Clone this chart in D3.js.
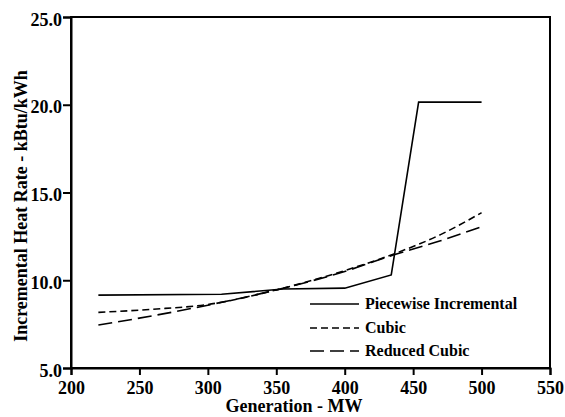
<!DOCTYPE html>
<html>
<head>
<meta charset="UTF-8">
<script src="https://d3js.org/d3.v7.min.js"></script>
<style>
  body { margin: 0; background: #fff; }
  text { font-family: "Liberation Serif", "Times New Roman", serif; font-weight: bold; fill: #000; }
  .axis path, .axis line { stroke: #000; stroke-width: 2px; }
  .curve { fill: none; stroke: #000; stroke-width: 1.6px; }
</style>
</head>
<body>
<svg id="chart" width="565" height="417"></svg>
<script>
// data (MW, kBtu/kWh)
const piecewiseMW  = [220, 310, 355, 400, 434, 454, 500];
const piecewiseHR  = [9.15, 9.2, 9.5, 9.55, 10.3, 20.15, 20.15];
const cubicMW      = [220, 260, 300, 350, 400, 436, 470, 500];
const cubicHR      = [8.17, 8.35, 8.62, 9.45, 10.55, 11.5, 12.6, 13.85];
const reducedMW    = [220, 260, 300, 350, 400, 436, 470, 500];
const reducedHR    = [7.45, 7.98, 8.58, 9.45, 10.5, 11.45, 12.25, 13.05];
const xTicks = [200, 250, 300, 350, 400, 450, 500, 550];
const yTicks = [5, 10, 15, 20, 25];
const seriesNames = ["Piecewise Incremental", "Cubic", "Reduced Cubic"];

const svg = d3.select("#chart");
const plotLeft = 71, plotTop = 17, plotRight = 550, plotBottom = 368;

const x = d3.scaleLinear().domain([200, 550]).range([plotLeft, plotRight]);
const y = d3.scaleLinear().domain([5, 25]).range([plotBottom, plotTop]);

// frame (top + right)
svg.append("rect")
   .attr("x", plotLeft).attr("y", plotTop)
   .attr("width", plotRight - plotLeft).attr("height", plotBottom - plotTop)
   .attr("fill", "none").attr("stroke", "#000").attr("stroke-width", 2);

const xAxis = svg.append("g")
   .attr("class", "axis")
   .attr("transform", `translate(0,${plotBottom})`)
   .call(d3.axisBottom(x).tickValues(xTicks).tickSize(7).tickPadding(6).tickFormat(d3.format("d")));
xAxis.selectAll("text").style("font-size", "18px");

const yAxis = svg.append("g")
   .attr("class", "axis")
   .attr("transform", `translate(${plotLeft},0)`)
   .call(d3.axisLeft(y).tickValues(yTicks).tickSize(8).tickPadding(1).tickFormat(d3.format(".1f")));
yAxis.selectAll("text").style("font-size", "18px").attr("dy", "0.45em");

// axis titles
svg.append("text")
   .attr("x", 294).attr("y", 412)
   .attr("text-anchor", "middle")
   .style("font-size", "18px")
   .text("Generation - MW");

svg.append("text")
   .attr("transform", "translate(27,206) rotate(-90)")
   .attr("text-anchor", "middle")
   .style("font-size", "18px")
   .text("Incremental Heat Rate - kBtu/kWh");

// lines
const lineStraight = d3.line().x(d => x(d[0])).y(d => y(d[1]));
const lineSmooth = d3.line().x(d => x(d[0])).y(d => y(d[1])).curve(d3.curveMonotoneX);

const dashes = [null, "7,4", "14,6"];

svg.append("path")
   .datum(d3.zip(piecewiseMW, piecewiseHR))
   .attr("class", "curve")
   .attr("d", lineStraight);

svg.append("path")
   .datum(d3.zip(cubicMW, cubicHR))
   .attr("class", "curve")
   .attr("stroke-dasharray", dashes[1])
   .attr("d", lineSmooth);

svg.append("path")
   .datum(d3.zip(reducedMW, reducedHR))
   .attr("class", "curve")
   .attr("stroke-dasharray", dashes[2])
   .attr("d", lineSmooth);

// legend
const legendY = [304, 328, 351];
const legend = svg.append("g");
seriesNames.forEach((name, i) => {
  legend.append("line")
    .attr("x1", 310).attr("x2", 359)
    .attr("y1", legendY[i]).attr("y2", legendY[i])
    .attr("stroke", "#000").attr("stroke-width", 1.6)
    .attr("stroke-dasharray", dashes[i]);
  legend.append("text")
    .attr("x", 365).attr("y", legendY[i])
    .attr("dy", "0.3em")
    .style("font-size", "16px")
    .text(name);
});
</script>
</body>
</html>
